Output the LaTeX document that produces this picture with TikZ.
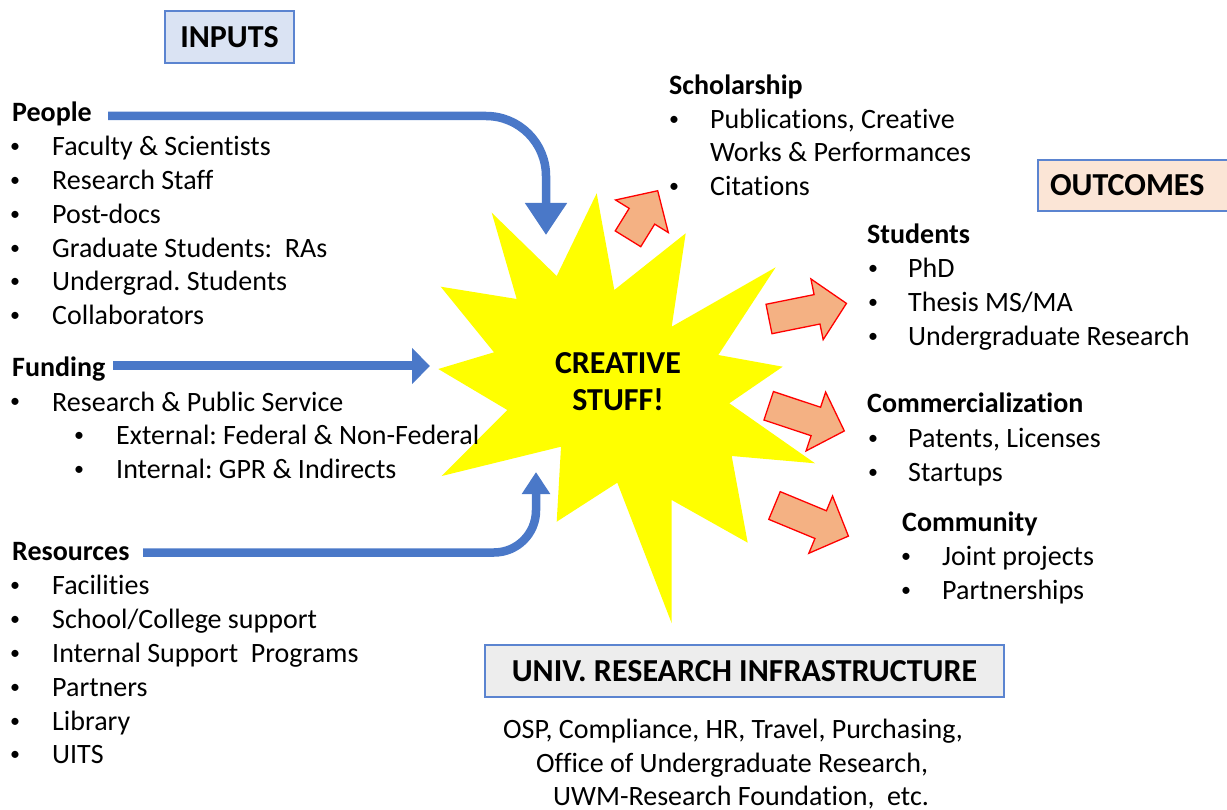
\documentclass[tikz,border=0pt]{standalone}
\usepackage{fontspec}
\setmainfont{Carlito}[Ligatures=NoCommon]
\usetikzlibrary{arrows.meta}
\definecolor{bluearr}{HTML}{4A78C8}
\definecolor{orangefill}{HTML}{F4B183}
\definecolor{inbox}{HTML}{DAE3F3}
\definecolor{outbox}{HTML}{FBE5D6}
\definecolor{infbox}{HTML}{EDEDED}
\definecolor{boxline}{HTML}{5B84D0}
\definecolor{staryellow}{RGB}{255,255,0}
\definecolor{arrowred}{RGB}{255,0,0}
\frenchspacing
\newcommand\blockarrow[3]{%
  \path[outarrow, shift={(#1)}, rotate=#2]
    (0,-15) -- ({#3-30},-15) -- ({#3-30},-31) -- (#3,0) --
    ({#3-30},31) -- ({#3-30},15) -- (0,15) -- cycle;}
\begin{document}
\begin{tikzpicture}[x=1pt,y=-1pt,
  txt/.style={font=\fontsize{28}{34}\selectfont, inner sep=0pt, anchor=base west},
  head/.style={font=\fontsize{28}{34}\selectfont\bfseries, inner sep=0pt, anchor=base west},
  bul/.style={font=\fontsize{20}{24}\selectfont, inner sep=0pt, anchor=base, yshift=3pt},
  labelbox/.style={draw=boxline, line width=1.3pt, font=\fontsize{32}{36}\selectfont\bfseries, inner sep=0pt},
  inflow/.style={draw=bluearr, line width=8.5pt},
  outarrow/.style={fill=orangefill, draw=arrowred, line width=1.3pt, line join=miter}]
\useasboundingbox (0,0) rectangle (1227,810);

% ---- central star ----
\fill[staryellow] (596.7,193.3) -- (614.3,290) -- (685.7,233.3) -- (671.7,326.7)
  -- (775.7,267.3) -- (718.3,355) -- (782.7,366.7) -- (729.3,403.3)
  -- (815,463.3) -- (731.7,456) -- (747.7,542.7) -- (671.7,500)
  -- (671.7,623.3) -- (617.3,482.7) -- (556.7,521.7) -- (561,446.7)
  -- (441.7,476) -- (507.3,410) -- (438.3,369) -- (494,352.3)
  -- (440.7,286.7) -- (516.7,299) -- (491.7,212.7) -- (556.7,276) -- cycle;
\node[font=\fontsize{32}{37}\selectfont\bfseries, align=center, inner sep=0pt, anchor=base]
  (creative) at (618,410) {CREATIVE\\STUFF!};

% ---- label boxes ----
\node[labelbox, fill=inbox, minimum width=129pt, minimum height=52pt] (inputs) at (229.5,37) {INPUTS};
\node[labelbox, fill=outbox, minimum width=202pt, minimum height=51pt, text width=178pt, align=left]
  (outcomes) at (1139,185.5) {OUTCOMES};
\node[labelbox, fill=infbox, minimum width=519pt, minimum height=52pt] (infra) at (744.5,671) {UNIV. RESEARCH INFRASTRUCTURE};

% ---- left lists ----
\node[head] (people) at (12,122) {People};
\foreach \t [count=\i] in {Faculty \& Scientists, Research Staff, Post-docs,
    Graduate Students:~ RAs, Undergrad. Students, Collaborators} {
  \node[bul] (peob\i) at (15,{122+33.8*\i}) {•};
  \node[txt] (peo\i) at (52,{122+33.8*\i}) {\t};
}
\node[head] (funding) at (12,377) {Funding};
\node[bul] (funb1) at (15,411) {•};
\node[txt] (fun1) at (52,411) {Research \& Public Service};
\node[bul] (funb2) at (79,444.5) {•};
\node[txt] (fun2) at (116,444.5) {External: Federal \& Non-Federal};
\node[bul] (funb3) at (79,478.5) {•};
\node[txt] (fun3) at (116,478.5) {Internal: GPR \& Indirects};

\node[head] (resources) at (12,560.5) {Resources};
\foreach \t [count=\i] in {Facilities, School/College support, Internal Support~ Programs,
    Partners, Library, UITS} {
  \node[bul] (resb\i) at (15,{560.5+33.9*\i}) {•};
  \node[txt] (res\i) at (52,{560.5+33.9*\i}) {\t};
}

% ---- right lists ----
\node[head] (scholar) at (669,94.5) {Scholarship};
\node[bul] (schb1) at (674,128.5) {•};
\node[txt] (sch1) at (710,128.5) {Publications, Creative};
\node[txt] (sch2) at (710,161.5) {Works \& Performances};
\node[bul] (schb3) at (674,195.5) {•};
\node[txt] (sch3) at (710,195.5) {Citations};

\node[head] (students) at (867,244) {Students};
\foreach \t [count=\i] in {PhD, Thesis MS/MA, Undergraduate Research} {
  \node[bul] (stub\i) at (873,{244+34*\i}) {•};
  \node[txt] (stu\i) at (908,{244+34*\i}) {\t};
}
\node[head] (commerce) at (867,413) {Commercialization};
\foreach \t [count=\i] in {{Patents, Licenses}, Startups} {
  \node[bul] (comb\i) at (873,{413+34*\i}) {•};
  \node[txt] (com\i) at (908,{413+34*\i}) {\t};
}
\node[head] (community) at (902,531) {Community};
\foreach \t [count=\i] in {Joint projects, Partnerships} {
  \node[bul] (cmyb\i) at (906,{531+34*\i}) {•};
  \node[txt] (cmy\i) at (942,{531+34*\i}) {\t};
}

% ---- bottom text ----
\node[txt] (inf1) at (503,738) {OSP, Compliance, HR, Travel, Purchasing,};
\node[txt] (inf2) at (536,772) {Office of Undergraduate Research,};
\node[txt] (inf3) at (553,805) {UWM-Research Foundation,~ etc.};

% ---- input arrows ----
\coordinate (peopleStart) at (108,116);
\coordinate (peopleEnd) at (546,235);
\coordinate (fundStart) at (113,366);
\coordinate (fundEnd) at (430,366);
\coordinate (resStart) at (143,552.5);
\coordinate (resEnd) at (536,472);
\draw[inflow, rounded corners=60pt, -{Triangle[width=40pt,length=32pt]}] (peopleStart) -| (peopleEnd);
\draw[inflow, line width=9pt, -{Triangle[width=35pt,length=18pt]}] (fundStart) -- (fundEnd);
\draw[inflow, rounded corners=42pt, -{Triangle[width=27pt,length=22pt]}] (resStart) -| (resEnd);

% ---- output arrows ----
\blockarrow{628,238.8}{58.3}{56.5}
\blockarrow{769,319}{11.4}{79}
\blockarrow{768.7,405.8}{-18.4}{79.7}
\blockarrow{774.5,505.5}{-22.5}{80}
\end{tikzpicture}
\end{document}
